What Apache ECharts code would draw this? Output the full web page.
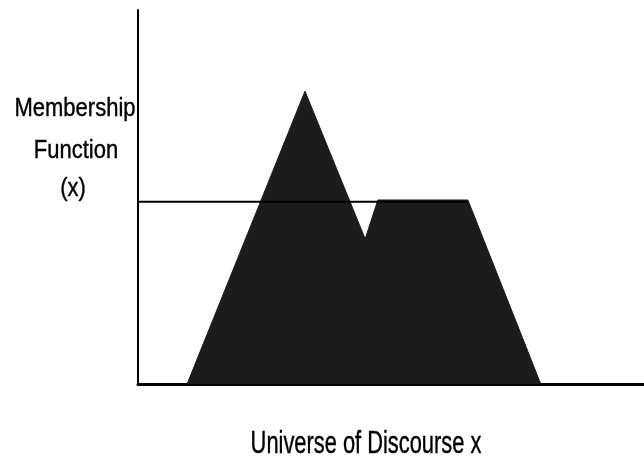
<!DOCTYPE html>
<html>
<head>
<meta charset="utf-8">
<script src="https://cdn.jsdelivr.net/npm/echarts@6/dist/echarts.min.js"></script>
<style>
  html, body { margin: 0; padding: 0; background: #fff; }
  #chart { width: 644px; height: 462px; }
</style>
</head>
<body>
<div id="chart"></div>
<script>
// fuzzy set outline (x in universe units 0..10, membership 0..1)
const shapeX = [0.97, 3.3, 4.49, 4.74, 6.52, 7.96];
const shapeY = [0, 0.783, 0.388, 0.492, 0.492, 0];
// horizontal cut line
const cutX = [0, 6.5];
const cutY = [0.487, 0.487];

const yLabelLines = ['Membership', 'Function', '(x)'];
const xLabel = 'Universe of Discourse x';

const font = '"Liberation Sans", Arial, sans-serif';

// narrow look: Liberation Sans squeezed horizontally
function label(text, cx, cy, size, sx) {
    return {
        type: 'text',
        x: cx, y: cy,
        scaleX: sx,
        style: {
            text: text,
            x: 0, y: 0,
            textAlign: 'center',
            textVerticalAlign: 'middle',
            font: size + 'px ' + font,
            fill: '#000',
            stroke: '#000',
            lineWidth: 0.4
        }
    };
}

const chart = echarts.init(document.getElementById('chart'), null, { renderer: 'canvas' });

chart.setOption({
    animation: false,
    backgroundColor: '#fff',
    grid: { left: 138, right: 0, top: 10, bottom: 78 },
    xAxis: {
        type: 'value',
        min: 0,
        max: 10,
        axisLine: { show: true, lineStyle: { color: '#000', width: 3 } },
        axisTick: { show: false },
        axisLabel: { show: false },
        splitLine: { show: false }
    },
    yAxis: {
        type: 'value',
        min: 0,
        max: 1,
        axisLine: { show: true, lineStyle: { color: '#000', width: 2 } },
        axisTick: { show: false },
        axisLabel: { show: false },
        splitLine: { show: false }
    },
    graphic: [
        label(yLabelLines[0], 75, 109, 25, 0.88),
        label(yLabelLines[1], 76, 151, 25, 0.88),
        label(yLabelLines[2], 73, 189, 25, 0.88),
        label(xLabel, 366, 444, 31, 0.705)
    ],
    series: [
        {
            type: 'line',
            data: shapeX.map((x, i) => [x, shapeY[i]]),
            symbol: 'none',
            lineStyle: { color: '#1c1c1c', width: 1 },
            areaStyle: { color: '#1c1c1c', opacity: 1 },
            z: 2
        },
        {
            type: 'line',
            data: cutX.map((x, i) => [x, cutY[i]]),
            symbol: 'none',
            lineStyle: { color: '#000', width: 2 },
            z: 3
        }
    ]
});
</script>
</body>
</html>
